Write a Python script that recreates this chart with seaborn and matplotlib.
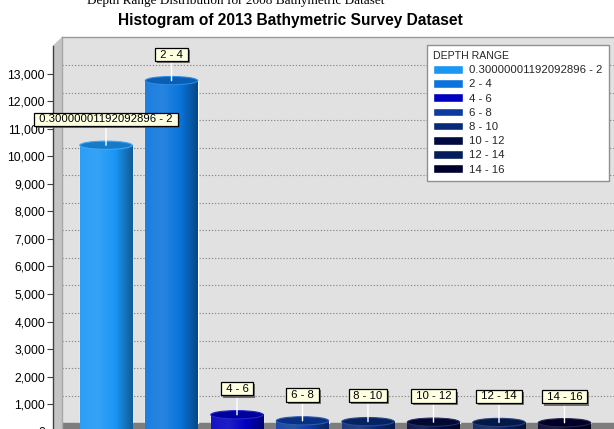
import numpy as np
import pandas as pd
import matplotlib
matplotlib.use("Agg")
import matplotlib.pyplot as plt
import seaborn as sns
from matplotlib.patches import Ellipse, Polygon
from matplotlib.colors import LinearSegmentedColormap, to_rgb
from matplotlib.ticker import StrMethodFormatter
import matplotlib.patheffects as pe

# ---------------- data ----------------
categories = ["0.30000001192092896 - 2", "2 - 4", "4 - 6", "6 - 8",
              "8 - 10", "10 - 12", "12 - 14", "14 - 16"]
counts = [10100, 12450, 300, 80, 50, 30, 20, 10]
bar_colors = ["#1a96f5", "#0a74dc", "#0000c0", "#0a3ca0",
              "#062a78", "#000a40", "#041e5a", "#00002e"]
y_ticks = list(range(0, 14000, 1000))
title = "Histogram of 2013 Bathymetric Survey Dataset"
top_caption = "Depth Range Distribution for 2008 Bathymetric Dataset"
legend_title = "DEPTH RANGE"

# ---------------- style ----------------
sns.set_theme(style="white")
plt.rcParams["font.family"] = ["Liberation Sans", "DejaVu Sans"]

W, H = 614, 429
fig = plt.figure(figsize=(W / 100, H / 100), dpi=100)

YMIN, YMAX = -218, 14036
XMIN, XMAX = -0.672, 7.756

# back plane axes (gridlines + bars)
ax = fig.add_axes([62 / W, 0, (W - 62) / W, (429 - 37) / H])
ax.set_facecolor("#e1e1e1")
ax.set_zorder(2)

df = pd.DataFrame({"range": categories, "count": counts})
sns.barplot(data=df, x="range", y="count", hue="range", palette=bar_colors,
            dodge=False, width=0.8, saturation=1, ax=ax, legend=True, zorder=3)

ax.set_xlim(XMIN, XMAX)
ax.set_ylim(YMIN, YMAX)
ax.set_yticks(y_ticks)
ax.yaxis.grid(True, color="#8c8c8c", linestyle=(0, (1.2, 1.6)), linewidth=0.8)
ax.set_axisbelow(True)
ax.tick_params(axis="both", which="both", length=0, labelleft=False, labelbottom=False)
ax.set_xlabel("")
ax.set_ylabel("")
for s in ["right", "bottom"]:
    ax.spines[s].set_visible(False)
ax.spines["top"].set_color("#9a9a9a")
ax.spines["left"].set_color("#a8a8a8")
ax.spines["top"].set_linewidth(1)
ax.spines["left"].set_linewidth(1)

# floor
ax.axhspan(YMIN, 0, color="#7d7d7d", zorder=2)

# cylinder shading
def shade(c, f):
    r, g, b = to_rgb(c)
    if f >= 1:
        return tuple(min(1, v + (1 - v) * (f - 1)) for v in (r, g, b))
    return tuple(v * f for v in (r, g, b))

ell_h = 300
bars = sorted(ax.patches[:len(categories)], key=lambda p: p.get_x())
for p, cat, col in zip(bars, categories, bar_colors):
    x0, w, h = p.get_x(), p.get_width(), p.get_height()
    cmap = LinearSegmentedColormap.from_list(
        "cyl", [shade(col, 1.08), shade(col, 1.12), shade(col, 1.0), shade(col, 0.62)],
    )
    grad = np.linspace(0, 1, 64).reshape(1, -1)
    ax.imshow(grad, extent=[x0, x0 + w, YMIN, h], aspect="auto", cmap=cmap,
              zorder=3.5, interpolation="bilinear")
    ax.add_patch(Ellipse((x0 + w / 2, h), w, ell_h, facecolor=shade(col, 0.82),
                         edgecolor=shade(col, 1.15), linewidth=0.8, zorder=4))
    ann = ax.annotate(f" {cat} ", xy=(x0 + w / 2, h), xytext=(0, 18.7),
                      textcoords="offset points", ha="center", va="center",
                      fontsize=8.2, color="black", zorder=6, annotation_clip=False,
                      bbox=dict(boxstyle="square,pad=0.15", fc="#ffffe1", ec="black", lw=0.9),
                      arrowprops=dict(arrowstyle="-", color="white", lw=1,
                                      shrinkA=0, shrinkB=0))
    ann.get_bbox_patch().set_path_effects(
        [pe.SimplePatchShadow(offset=(1.5, -1.5), shadow_rgbFace="#555555", alpha=0.8),
         pe.Normal()])

ax.set_xlim(XMIN, XMAX)
ax.set_ylim(YMIN, YMAX)

# legend
old = ax.get_legend()
handles = old.legend_handles
labels = [t.get_text() for t in old.get_texts()]
old.remove()
leg = ax.legend(handles, labels, title=legend_title, loc="upper right",
                bbox_to_anchor=(0.991, 0.980), borderaxespad=0, fontsize=8.2,
                title_fontsize=7.6, alignment="left", frameon=True, fancybox=False,
                framealpha=1, edgecolor="#909090", facecolor="white",
                handlelength=2.63, handleheight=0.8, handletextpad=0.55,
                labelspacing=0.34, borderpad=0.55)
leg.get_frame().set_linewidth(1)
leg.set_zorder(10)

# front plane axes (tick labels), shifted 9px left and 8.5px down
ax2 = fig.add_axes([53 / W, -8.5 / H, 10 / W, (429 - 37) / H])
ax2.set_zorder(1)
ax2.patch.set_visible(False)
ax2.set_ylim(YMIN, YMAX)
ax2.set_yticks(y_ticks)
ax2.yaxis.set_major_formatter(StrMethodFormatter("{x:,.0f}"))
ax2.tick_params(axis="y", direction="out", length=4.3, width=0.8, color="#404040",
                pad=1.5, labelsize=8.7, labelcolor="black", left=True)
ax2.xaxis.set_visible(False)
for s in ["right", "top", "bottom"]:
    ax2.spines[s].set_visible(False)
ax2.spines["left"].set_color("#404040")
ax2.spines["left"].set_linewidth(1)

# side wall between front and back planes
def fp(x, y):
    return (x / W, 1 - y / H)

wall = Polygon([fp(53, 45.5), fp(62, 37), fp(62, 430), fp(53, 430)],
               closed=True, transform=fig.transFigure, facecolor="#c4c4c4",
               edgecolor="none", zorder=-1)
fig.add_artist(wall)

# titles
fig.text(290 / W, 1 - 20 / H, title, ha="center", va="center",
         fontsize=11.2, fontweight="bold", color="black")
fig.text(236 / W, 1 - 4 / H, top_caption, ha="center", va="baseline",
         fontsize=9.5, color="black", family=["Liberation Serif", "DejaVu Serif"])

fig.savefig("out.png", dpi=100)
